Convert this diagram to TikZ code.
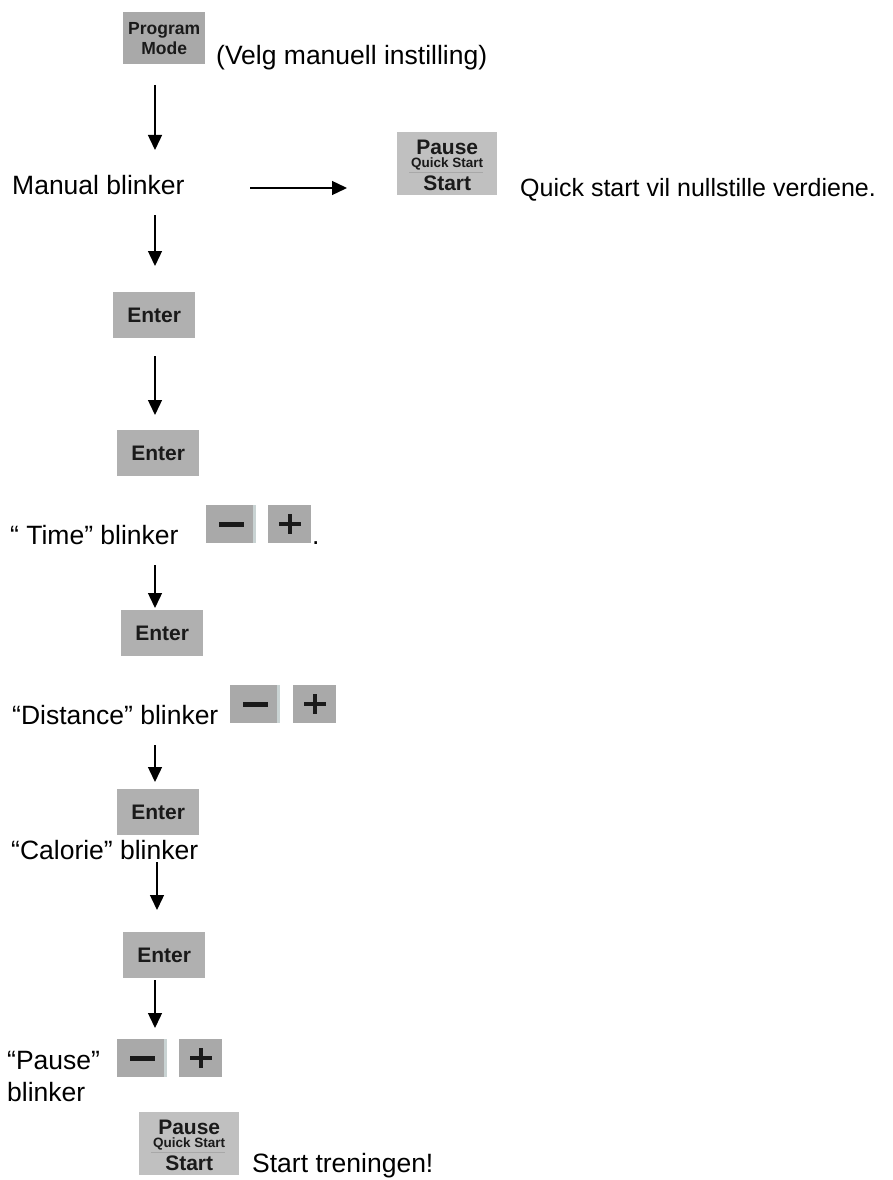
\documentclass[tikz,border=0pt]{standalone}
\usepackage{fontspec}
\setmainfont{Liberation Sans}
\usetikzlibrary{arrows.meta}
\definecolor{keygray}{HTML}{A9A9A9}
\definecolor{entergray}{HTML}{B0B0B0}
\definecolor{pausegray}{HTML}{C0C0C0}
\definecolor{keyedge}{HTML}{C9D3D3}
\definecolor{keytext}{HTML}{1A1A1A}
\definecolor{keyline}{HTML}{A8A8A8}
\newcommand\pausebutton[3]{%
  \node[pausekey] (#1) at (#2,#3) {};
  \node[pmkeytext] (#1p) at ([yshift=-15pt]#1.north) {Pause};
  \node[qstext] (#1q) at ([yshift=-32pt]#1.north) {Quick Start};
  \draw[keyline,line width=0.6pt] ([xshift=12pt,yshift=-40pt]#1.north west) -- ([xshift=-14pt,yshift=-40pt]#1.north east);
  \node[pmkeytext] (#1s) at ([yshift=-51pt]#1.north) {Start};
}
\newcommand\minusbutton[3]{%
  \node[minuskey] (#1) at (#2,#3) {};
  \fill[keyedge] (#1.north east) rectangle ([xshift=-3pt]#1.south east);
  \fill[glyph] ([xshift=-12.5pt,yshift=2.5pt]#1.center) rectangle ([xshift=12.5pt,yshift=-2.5pt]#1.center);
}
\newcommand\plusbutton[3]{%
  \node[pluskey] (#1) at (#2,#3) {};
  \fill[glyph] ([xshift=-11pt,yshift=2pt]#1.center) rectangle ([xshift=11pt,yshift=-2pt]#1.center);
  \fill[glyph] ([xshift=-2pt,yshift=10pt]#1.center) rectangle ([xshift=2pt,yshift=-10pt]#1.center);
}
\begin{document}
\begin{tikzpicture}[x=1pt,y=-1pt,
  arr/.style={line width=1.4pt,-{Triangle[width=14pt,length=15pt]}},
  txt/.style={font=\fontsize{26.5}{31}\selectfont,anchor=base west,inner sep=0pt},
  btn/.style={draw=none,inner sep=0pt,anchor=north west,text=keytext,font=\bfseries\fontsize{21}{24}\selectfont},
  enterkey/.style={btn,fill=entergray,minimum width=82pt,minimum height=46pt},
  pmkey/.style={btn,fill=keygray,minimum width=82pt,minimum height=52pt,align=center,font=\bfseries\fontsize{17.5}{20}\selectfont},
  pausekey/.style={btn,fill=pausegray,minimum width=100pt,minimum height=63pt},
  pmkeytext/.style={inner sep=0pt,text=keytext,font=\bfseries\fontsize{21}{24}\selectfont},
  qstext/.style={inner sep=0pt,text=keytext,font=\bfseries\fontsize{13.5}{15}\selectfont},
  minuskey/.style={btn,fill=keygray,minimum width=50pt,minimum height=38pt},
  pluskey/.style={btn,fill=keygray,minimum width=43pt,minimum height=38pt},
  glyph/.style={fill=keytext}
]
\useasboundingbox (0,0) rectangle (893,1180);

% ---- keys ----
\node[pmkey] (pm) at (123,12) {Program\\Mode};
\pausebutton{pq1}{397}{132}
\node[enterkey] (en1) at (113,292) {Enter};
\node[enterkey] (en2) at (117,430) {Enter};
\minusbutton{tm}{206}{505}
\plusbutton{tp}{268}{505}
\node[enterkey] (en3) at (121,610) {Enter};
\minusbutton{dm}{230}{685}
\plusbutton{dp}{293}{685}
\node[enterkey] (en4) at (117,789) {Enter};
\node[enterkey] (en5) at (123,932) {Enter};
\minusbutton{pm2}{117}{1039}
\plusbutton{pp2}{179}{1039}
\pausebutton{pq2}{139}{1112}

% ---- texts ----
\node[txt] (velg) at (216,65) {(Velg manuell instilling)};
\node[txt] (manual) at (12,194) {Manual blinker};
\node[txt,font=\fontsize{25}{30}\selectfont] (quick) at (520,196) {Quick start vil nullstille verdiene.};
\node[txt] (time) at (10,544) {“ Time” blinker};
\node[txt] (dot) at (312,544) {.};
\node[txt] (dist) at (12,724) {“Distance” blinker};
\node[txt] (cal) at (11,859) {“Calorie” blinker};
\node[txt] (pz) at (7,1069) {“Pause”};
\node[txt] (bl) at (7,1101) {blinker};
\node[txt] (st) at (252,1172) {Start treningen!};

% ---- connectors ----
\coordinate (a1s) at (155,85);   \coordinate (a1e) at (155,150);
\coordinate (ahs) at (250,188);  \coordinate (ahe) at (347,188);
\coordinate (a2s) at (155,215);  \coordinate (a2e) at (155,266);
\coordinate (a3s) at (155,356);  \coordinate (a3e) at (155,415);
\coordinate (a4s) at (155,565);  \coordinate (a4e) at (155,608);
\coordinate (a5s) at (155,745);  \coordinate (a5e) at (155,782);
\coordinate (a6s) at (157,862);  \coordinate (a6e) at (157,910);
\coordinate (a7s) at (155,980);  \coordinate (a7e) at (155,1028);
\draw[arr] (a1s) -- (a1e);
\draw[arr] (ahs) -- (ahe);
\draw[arr] (a2s) -- (a2e);
\draw[arr] (a3s) -- (a3e);
\draw[arr] (a4s) -- (a4e);
\draw[arr] (a5s) -- (a5e);
\draw[arr] (a6s) -- (a6e);
\draw[arr] (a7s) -- (a7e);
\end{tikzpicture}
\end{document}
